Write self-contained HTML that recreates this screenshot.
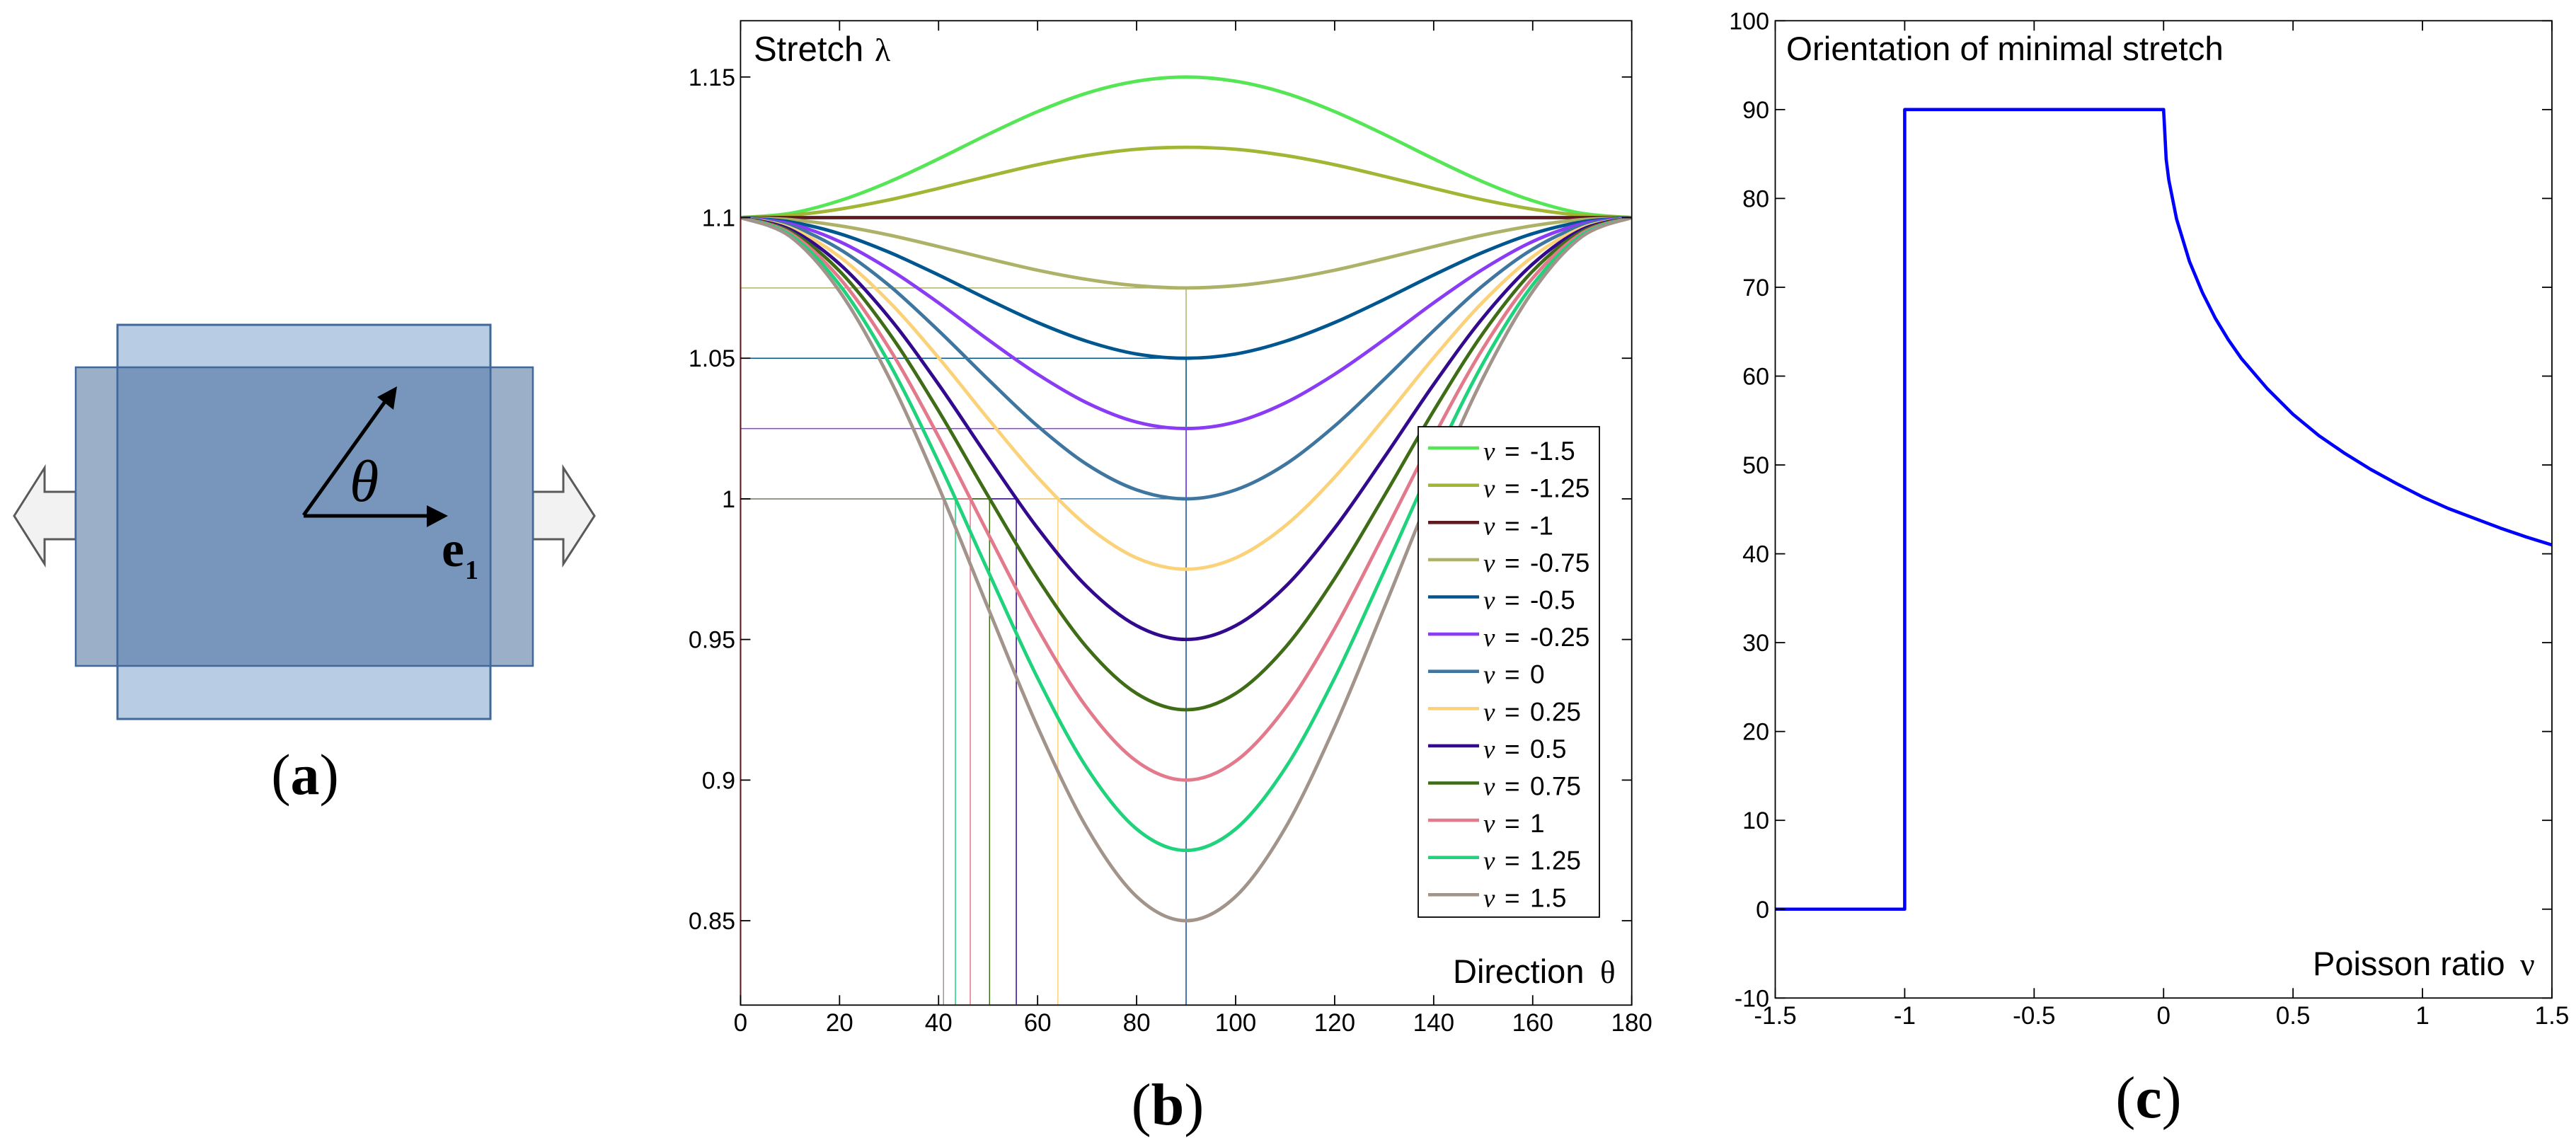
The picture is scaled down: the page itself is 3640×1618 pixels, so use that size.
<!DOCTYPE html>
<html lang="en">
<head>
<meta charset="utf-8">
<title>Stretch and Poisson ratio figure</title>
<style>
html,body{margin:0;padding:0;background:#fff;}
body{width:3640px;height:1618px;overflow:hidden;}
svg{display:block;}
text{font-family:"Liberation Sans",sans-serif;fill:#000;}
.serif{font-family:"Liberation Serif",serif;}
</style>
</head>
<body>
<svg id="figure" xmlns="http://www.w3.org/2000/svg" width="3640" height="1618" viewBox="0 0 3640 1618">
  <rect x="0" y="0" width="3640" height="1618" fill="#ffffff"/>

  <g id="panel-a">
    <polygon points="107,695 63,695 63,661 20,729 63,797 63,762 107,762" fill="#f2f2f2" stroke="#5a5a5a" stroke-width="3"/>
    <polygon points="753,695 796,695 796,661 840,729 796,797 796,762 753,762" fill="#f2f2f2" stroke="#5a5a5a" stroke-width="3"/>
    <rect x="107" y="519" width="646" height="422" fill="#9bafc9" stroke="#41689a" stroke-width="2.5"/>
    <rect x="166" y="459" width="527" height="557" fill="#b8cce4" stroke="#41689a" stroke-width="3"/>
    <rect x="166" y="519" width="527" height="422" fill="#7896bc" stroke="#41689a" stroke-width="2.5"/>
    <line x1="429" y1="728" x2="548" y2="562" stroke="#000" stroke-width="5"/>
    <polygon points="561,546 556,579 533,561" fill="#000"/>
    <line x1="429" y1="729" x2="605" y2="729" stroke="#000" stroke-width="5"/>
    <polygon points="633,729 603,714 603,745" fill="#000"/>
    <text class="serif" x="494" y="708" font-size="84" font-style="italic" style="font-family:'Liberation Serif',serif;">θ</text>
    <text class="serif" x="624" y="800" font-size="72" font-weight="bold" style="font-family:'Liberation Serif',serif;">e</text>
    <text class="serif" x="657" y="818" font-size="38" font-weight="bold" style="font-family:'Liberation Serif',serif;">1</text>
    <text x="431" y="1122" text-anchor="middle" font-size="82" style="font-family:'Liberation Serif',serif;">(<tspan font-weight="bold">a</tspan>)</text>
  </g>

  <g id="panel-b">
    <g id="b-curves"></g>
    <rect x="2004" y="603" width="256" height="693" fill="#ffffff" stroke="#000" stroke-width="1.8"/>
    <g id="b-legend"></g>
    <g id="b-axes"></g>
    <text x="1065" y="86" font-size="49">Stretch<tspan x="1236" font-size="46" style="font-family:'Liberation Serif',serif;">λ</tspan></text>
    <text x="2053" y="1389" font-size="47">Direction<tspan x="2261" font-size="45" style="font-family:'Liberation Serif',serif;">θ</tspan></text>
    <text x="1650" y="1589" text-anchor="middle" font-size="84" style="font-family:'Liberation Serif',serif;">(<tspan font-weight="bold">b</tspan>)</text>
  </g>

  <g id="panel-c">
    <g id="c-series"></g>
    <g id="c-axes"></g>
    <text x="2524" y="85" font-size="47.5">Orientation of minimal stretch</text>
    <text x="3268" y="1378" font-size="47">Poisson ratio<tspan x="3561" font-size="46" style="font-family:'Liberation Serif',serif;">ν</tspan></text>
    <text x="3036" y="1579" text-anchor="middle" font-size="84" style="font-family:'Liberation Serif',serif;">(<tspan font-weight="bold">c</tspan>)</text>
  </g>
</svg>

<script>
// Panel (b) data
const thetaValues = [0,10,20,30,40,50,60,70,80,90,100,110,120,130,140,150,160,170,180];
const nuLabels = ['-1.5','-1.25','-1','-0.75','-0.5','-0.25','0','0.25','0.5','0.75','1','1.25','1.5'];
const stretchNuM150 = [1.1,1.1015,1.1060,1.1127,1.1209,1.1296,1.1377,1.1443,1.1485,1.15,1.1485,1.1443,1.1377,1.1296,1.1209,1.1127,1.1060,1.1015,1.1];
const stretchNuM125 = [1.1,1.1008,1.1030,1.1063,1.1104,1.1147,1.1188,1.1221,1.1243,1.125,1.1243,1.1221,1.1188,1.1147,1.1104,1.1063,1.1030,1.1008,1.1];
const stretchNuM100 = [1.1,1.1,1.1,1.1,1.1,1.1,1.1,1.1,1.1,1.1,1.1,1.1,1.1,1.1,1.1,1.1,1.1,1.1,1.1];
const stretchNuM075 = [1.1,1.0993,1.0971,1.0938,1.0897,1.0854,1.0813,1.0780,1.0758,1.075,1.0758,1.0780,1.0813,1.0854,1.0897,1.0938,1.0971,1.0993,1.1];
const stretchNuM050 = [1.1,1.0985,1.0943,1.0877,1.0796,1.0709,1.0627,1.0560,1.0515,1.05,1.0515,1.0560,1.0627,1.0709,1.0796,1.0877,1.0943,1.0985,1.1];
const stretchNuM025 = [1.1,1.0978,1.0915,1.0817,1.0697,1.0566,1.0443,1.0341,1.0273,1.025,1.0273,1.0341,1.0443,1.0566,1.0697,1.0817,1.0915,1.0978,1.1];
const stretchNu000 = [1.1,1.0971,1.0888,1.0759,1.0598,1.0425,1.0259,1.0122,1.0032,1,1.0032,1.0122,1.0259,1.0425,1.0598,1.0759,1.0888,1.0971,1.1];
const stretchNu025 = [1.1,1.0964,1.0861,1.0701,1.0502,1.0285,1.0077,0.9904,0.9790,0.975,0.9790,0.9904,1.0077,1.0285,1.0502,1.0701,1.0861,1.0964,1.1];
const stretchNu050 = [1.1,1.0958,1.0835,1.0645,1.0407,1.0147,0.9896,0.9687,0.9549,0.95,0.9549,0.9687,0.9896,1.0147,1.0407,1.0645,1.0835,1.0958,1.1];
const stretchNu075 = [1.1,1.0951,1.0810,1.0590,1.0313,1.0010,0.9717,0.9471,0.9308,0.925,0.9308,0.9471,0.9717,1.0010,1.0313,1.0590,1.0810,1.0951,1.1];
const stretchNu100 = [1.1,1.0945,1.0785,1.0536,1.0221,0.9876,0.9539,0.9256,0.9067,0.9,0.9067,0.9256,0.9539,0.9876,1.0221,1.0536,1.0785,1.0945,1.1];
const stretchNu125 = [1.1,1.0939,1.0761,1.0483,1.0131,0.9743,0.9363,0.9042,0.8826,0.875,0.8826,0.9042,0.9363,0.9743,1.0131,1.0483,1.0761,1.0939,1.1];
const stretchNu150 = [1.1,1.0933,1.0738,1.0431,1.0043,0.9612,0.9189,0.8829,0.8586,0.85,0.8586,0.8829,0.9189,0.9612,1.0043,1.0431,1.0738,1.0933,1.1];
const stretchSeries = [stretchNuM150,stretchNuM125,stretchNuM100,stretchNuM075,stretchNuM050,stretchNuM025,stretchNu000,stretchNu025,stretchNu050,stretchNu075,stretchNu100,stretchNu125,stretchNu150];
const refTheta = [0,0,0,90,90,90,90,64.1,55.7,50.3,46.4,43.4,41];
const refStretch = [1.1,1.1,1.1,1.075,1.05,1.025,1,1,1,1,1,1,1];
const seriesColors = ['#55e655','#a2b535','#5e1a1e','#adb268','#00568f','#8a3cf5','#3f76a0','#fbd27a','#330a8e','#3f6d17','#e27a8b','#1fd27c','#a2948a'];
const bXTicks = [0,20,40,60,80,100,120,140,160,180];
const bYTicks = [0.85,0.9,0.95,1,1.05,1.1,1.15];
const bYTickLabels = ['0.85','0.9','0.95','1','1.05','1.1','1.15'];

// Panel (c) data
const nuValues = [-1.5,-1.25,-1,-1,-0.75,-0.5,-0.25,0,0.01,0.02,0.05,0.1,0.15,0.2,0.25,0.3,0.4,0.5,0.6,0.7,0.8,0.9,1,1.1,1.2,1.3,1.4,1.5];
const orientationValues = [0,0,0,90,90,90,90,90,84.4,82.1,77.7,72.9,69.4,66.5,64.1,62,58.6,55.7,53.3,51.3,49.5,47.9,46.4,45.1,44,42.9,41.9,41];
const cXTicks = [-1.5,-1,-0.5,0,0.5,1,1.5];
const cYTicks = [-10,0,10,20,30,40,50,60,70,80,90,100];

const SVG_NS = 'http://www.w3.org/2000/svg';
function make(tag, attrs, parent) {
  const el = document.createElementNS(SVG_NS, tag);
  Object.keys(attrs).forEach(function (k) { el.setAttribute(k, attrs[k]); });
  parent.appendChild(el);
  return el;
}

// Axis functions
const bPlot = {left: 1046.4, right: 2305.7, top: 29.3, bottom: 1420.3};
const cPlot = {left: 2508.5, right: 3606, top: 29.3, bottom: 1410.3};
function bX(v) { return bPlot.left + (v - 0) / 180 * (bPlot.right - bPlot.left); }
function bY(v) { return bPlot.bottom - (v - 0.82) / 0.35 * (bPlot.bottom - bPlot.top); }
function cX(v) { return cPlot.left + (v + 1.5) / 3 * (cPlot.right - cPlot.left); }
function cY(v) { return cPlot.bottom - (v + 10) / 110 * (cPlot.bottom - cPlot.top); }

function smoothPath(xs, ys) {
  const pts = xs.map(function (x, i) { return [bX(x), bY(ys[i])]; });
  let d = 'M' + pts[0][0].toFixed(2) + ' ' + pts[0][1].toFixed(2);
  for (let i = 0; i < pts.length - 1; i++) {
    const p0 = pts[Math.max(0, i - 1)], p1 = pts[i], p2 = pts[i + 1], p3 = pts[Math.min(pts.length - 1, i + 2)];
    const c1x = p1[0] + (p2[0] - p0[0]) / 6, c1y = p1[1] + (p2[1] - p0[1]) / 6;
    const c2x = p2[0] - (p3[0] - p1[0]) / 6, c2y = p2[1] - (p3[1] - p1[1]) / 6;
    d += 'C' + c1x.toFixed(2) + ' ' + c1y.toFixed(2) + ' ' + c2x.toFixed(2) + ' ' + c2y.toFixed(2) + ' ' + p2[0].toFixed(2) + ' ' + p2[1].toFixed(2);
  }
  return d;
}

// Panel (b) curves with reference lines, later series on top
const bCurves = document.getElementById('b-curves');
stretchSeries.forEach(function (vals, i) {
  const curve = make('path', {d: smoothPath(thetaValues, vals), fill: 'none', stroke: seriesColors[i], 'stroke-width': 4.8}, bCurves);
  
  
  const vRef = make('line', {x1: bX(refTheta[i]), x2: bX(refTheta[i]), y1: bPlot.bottom - 1, y2: bY(refStretch[i]), stroke: seriesColors[i], 'stroke-width': 1.5}, bCurves);
  
  
  if (refTheta[i] > 0) {
    const hRef = make('line', {x1: bX(0), x2: bX(refTheta[i]), y1: bY(refStretch[i]), y2: bY(refStretch[i]), stroke: seriesColors[i], 'stroke-width': 1.5}, bCurves);
    
    
  }
});

// Legend
const bLegend = document.getElementById('b-legend');
nuLabels.forEach(function (label, i) {
  const rowY = 633.1 + i * 52.6;
  const swatch = make('line', {x1: 2018, x2: 2090, y1: rowY, y2: rowY, stroke: seriesColors[i], 'stroke-width': 4.6}, bLegend);
  
  
  const t = make('text', {x: 2096, y: rowY + 17, 'font-size': 37}, bLegend);
  
  
  const nu = make('tspan', {x: 2096, style: "font-family:'Liberation Serif',serif;font-style:italic;"}, t);
  nu.textContent = 'ν';
  const eq = make('tspan', {x: 2126}, t);
  eq.textContent = '=';
  const val = make('tspan', {x: 2162}, t);
  val.textContent = label;
});

// Shared axis drawing
function drawBox(parent, p, leftAxisName) {
  const box = make('rect', {x: p.left, y: p.top, width: p.right - p.left, height: p.bottom - p.top, fill: 'none', stroke: '#000', 'stroke-width': 1.8}, parent);
  
  
}
function drawXTick(parent, p, x, label, baseY) {
  const bottomTick = make('line', {x1: x, x2: x, y1: p.bottom, y2: p.bottom - 14, stroke: '#000', 'stroke-width': 1.8}, parent);
  
  
  const topTick = make('line', {x1: x, x2: x, y1: p.top, y2: p.top + 14, stroke: '#000', 'stroke-width': 1.8}, parent);
  
  
  const t = make('text', {x: x, y: baseY, 'font-size': 35, 'text-anchor': 'middle'}, parent);
  
  
  t.textContent = label;
}
function drawYTick(parent, p, y, label, labelRight) {
  const leftTick = make('line', {x1: p.left, x2: p.left + 14, y1: y, y2: y, stroke: '#000', 'stroke-width': 1.8}, parent);
  
  
  const rightTick = make('line', {x1: p.right, x2: p.right - 14, y1: y, y2: y, stroke: '#000', 'stroke-width': 1.8}, parent);
  
  
  const t = make('text', {x: labelRight, y: y + 12, 'font-size': 34, 'text-anchor': 'end'}, parent);
  
  
  t.textContent = label;
}

// Panel (b) axes
const bAxes = document.getElementById('b-axes');
drawBox(bAxes, bPlot, 'stretch-plot-frame');
const redEdge = make('line', {x1: bX(refTheta[2]), x2: bX(refTheta[2]), y1: bPlot.bottom - 1, y2: bY(refStretch[2]), stroke: seriesColors[2], 'stroke-width': 2}, bAxes);


bXTicks.forEach(function (v) { drawXTick(bAxes, bPlot, bX(v), String(v), 1457); });
bYTicks.forEach(function (v, i) { drawYTick(bAxes, bPlot, bY(v), bYTickLabels[i], 1039); });

// Panel (c) series
const cSeries = document.getElementById('c-series');
const orientationPoints = nuValues.map(function (v, i) { return cX(v).toFixed(2) + ',' + cY(orientationValues[i]).toFixed(2); }).join(' ');
const orientationLine = make('polyline', {points: orientationPoints, fill: 'none', stroke: '#0000ff', 'stroke-width': 4.6, 'stroke-linejoin': 'round'}, cSeries);



// Panel (c) axes
const cAxes = document.getElementById('c-axes');
drawBox(cAxes, cPlot, 'orientation-plot-frame');
cXTicks.forEach(function (v) { drawXTick(cAxes, cPlot, cX(v), String(v), 1447); });
cYTicks.forEach(function (v) { drawYTick(cAxes, cPlot, cY(v), String(v), 2500); });
</script>
</body>
</html>
